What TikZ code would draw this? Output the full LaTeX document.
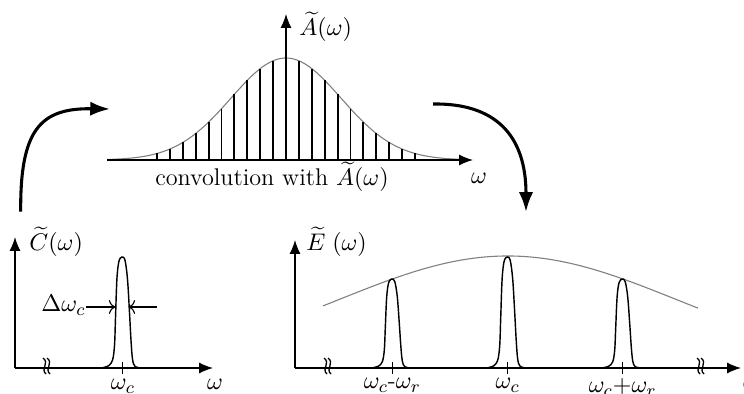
\documentclass[tikz,border=0pt]{standalone}
\usepackage{amsmath,amssymb}
\usepackage{tikz}
\usetikzlibrary{arrows.meta,calc,positioning}

% one spectral line: x of tick, y of axis, height
\newcommand{\specpeak}[3]{%
  \begin{scope}[shift={(#1,#2)},yscale=#3]
    \draw[peakline] plot[smooth,tension=0.55] coordinates {(-21,0) (-14,-0.02) (-10,-0.07) (-8,-0.2)
      (-7,-0.45) (-5.6,-0.8) (-3.6,-0.96) (-0.5,-1) (2.5,-0.97) (5,-0.8) (7,-0.5)
      (8.5,-0.25) (10,-0.08) (12.5,-0.015) (19,0)};
  \end{scope}}
% broken axis mark
\newcommand{\axisbreak}[2]{%
  \draw[brk] (#1-3,#2-10) .. controls (#1+4,#2-5) and (#1-6,#2+1) .. (#1,#2+6);
  \draw[brk] (#1+1,#2-10) .. controls (#1+8,#2-5) and (#1-2,#2+1) .. (#1+4,#2+6);}

\begin{document}
\begin{tikzpicture}[x=0.016cm,y=-0.016cm,
  every node/.style={font=\fontsize{11}{13}\selectfont,inner sep=0pt},
  axisarr/.style={line width=0.6pt,-{Latex[length=6.3pt,width=5pt]}},
  cycarr/.style={line width=1.4pt,-{Latex[length=9pt,width=6.5pt]}},
  gauss/.style={draw=gray,line width=0.5pt},
  impulse/.style={line width=0.9pt},
  peakline/.style={line width=0.65pt},
  tickmark/.style={line width=0.5pt},
  brk/.style={line width=0.6pt},
  dwarr/.style={line width=0.5pt,-{To[length=3pt]}}]
  \useasboundingbox (0,0) rectangle (744,394);

  % comb convolved with the envelope
  \coordinate (a0) at (286,160);
  \coordinate (aw) at (107,160);
  \coordinate (ax) at (473,160);
  \coordinate (ay) at (286,14);
  \draw[gauss] plot[domain=107:466,samples=90] (\x,{160-102*exp(-0.5*((\x-286)/55)^2)});
  \foreach \k in {-10,...,10}
    \draw[impulse] ($(a0)+(12.9*\k,0)$) -- ++(0,{-102*exp(-0.5*(12.9*\k/55)^2)});
  \draw[axisarr] (aw) -- (ax);
  \draw[axisarr] (a0) -- (ay);
  \node[anchor=base west] (alab) at (299,36) {$\widetilde{A}(\omega)$};
  \node[anchor=north] (aom) at (479,173) {$\omega$};
  \node[anchor=base] (conv) at (272,186) {convolution with $\widetilde{A}(\omega)$};

  % comb spectrum
  \coordinate (c0) at (15,368);
  \coordinate (cx) at (213,368);
  \coordinate (cy) at (15,237);
  \draw[axisarr] (c0) -- (cx);
  \draw[axisarr] (c0) -- (cy);
  \axisbreak{46}{368}
  \draw[tickmark] (122.5,362) -- (122.5,374);
  \specpeak{122.5}{368}{111}
  \node[anchor=base west] (clab) at (29,251) {$\widetilde{C}(\omega)$};
  \node[anchor=north] (cwc) at (123,379) {$\omega_c$};
  \node[anchor=north] (com) at (215,379) {$\omega$};
  \node[anchor=base east] (dw) at (86,312) {$\Delta\omega_c$};
  \coordinate (dwl) at (115.5,307);
  \coordinate (dwr) at (128.5,307);
  \coordinate (dwe) at (157,307);
  \draw[dwarr] (dw.east |- dwl) -- (dwl);
  \draw[dwarr] (dwe) -- (dwr);

  % modulated spectrum
  \coordinate (e0) at (295,368);
  \coordinate (ex) at (741,368);
  \coordinate (ey) at (295,240);
  \draw[gauss] plot[domain=323:698,samples=80] (\x,{368-112*exp(-0.5*((\x-507.7)/170)^2)});
  \draw[axisarr] (e0) -- (ex);
  \draw[axisarr] (e0) -- (ey);
  \axisbreak{327}{368}
  \axisbreak{700}{368}
  \foreach \xe/\he in {392.3/89,507.7/111,622.7/89} {
    \draw[tickmark] (\xe,362) -- (\xe,374);
    \specpeak{\xe}{368}{\he}
  }
  \node[anchor=base west] (elab) at (306,251) {$\widetilde{E}\;(\omega)$};
  \node[anchor=north] (elo) at (392.3,378) {$\omega_c$-$\omega_r$};
  \node[anchor=north] (ewc) at (507.7,378) {$\omega_c$};
  \node[anchor=north] (ehi) at (622.7,378) {$\omega_c{+}\omega_r$};
  \node[anchor=north west] (eom) at (743,378) {$\omega$};

  % curved arrows
  \coordinate (lfrom) at (20.7,211.7);
  \coordinate (lto) at (110,109);
  \coordinate (rfrom) at (433,104);
  \coordinate (rto) at (526,212);
  \draw[cycarr] (lfrom) .. controls (20,130) and (40,108) .. (lto);
  \draw[cycarr] (rfrom) .. controls (495,103) and (526,135) .. (rto);
\end{tikzpicture}
\end{document}
